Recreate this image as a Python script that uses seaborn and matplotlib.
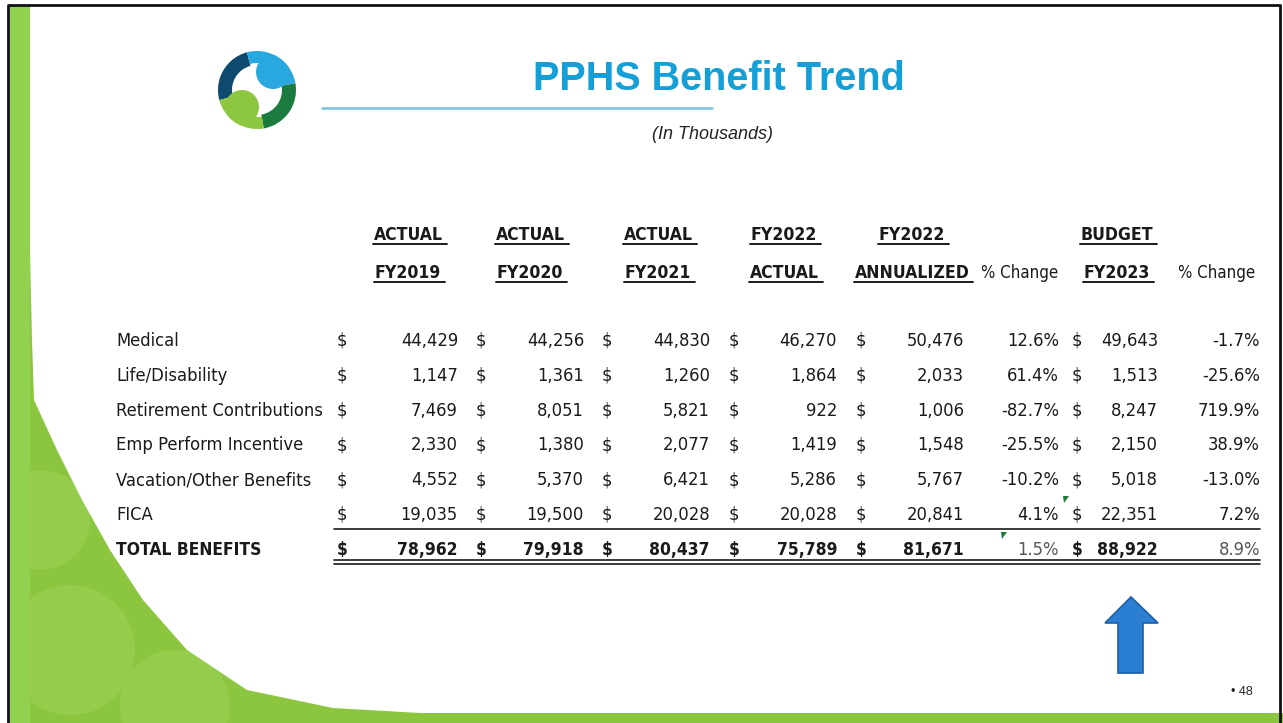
import matplotlib
matplotlib.use("Agg")
import matplotlib.pyplot as plt
import seaborn as sns
from matplotlib.patches import Polygon, Wedge, Circle, Rectangle
from matplotlib import font_manager
from matplotlib.font_manager import FontProperties

# Table data (in thousands)
categories = [
    "Medical",
    "Life/Disability",
    "Retirement Contributions",
    "Emp Perform Incentive",
    "Vacation/Other Benefits",
    "FICA",
]
fy2019 = [44429, 1147, 7469, 2330, 4552, 19035]
fy2020 = [44256, 1361, 8051, 1380, 5370, 19500]
fy2021 = [44830, 1260, 5821, 2077, 6421, 20028]
fy2022_actual = [46270, 1864, 922, 1419, 5286, 20028]
fy2022_annualized = [50476, 2033, 1006, 1548, 5767, 20841]
pct_change_2022 = [12.6, 61.4, -82.7, -25.5, -10.2, 4.1]
budget_fy2023 = [49643, 1513, 8247, 2150, 5018, 22351]
pct_change_2023 = [-1.7, -25.6, 719.9, 38.9, -13.0, 7.2]

total_label = "TOTAL BENEFITS"
total_amounts = [78962, 79918, 80437, 75789, 81671]
total_pct_2022 = 1.5
total_budget = 88922
total_pct_2023 = 8.9

header_top = ["ACTUAL", "ACTUAL", "ACTUAL", "FY2022", "FY2022", "", "BUDGET", ""]
header_bottom = ["FY2019", "FY2020", "FY2021", "ACTUAL", "ANNUALIZED",
                 "% Change", "FY2023", "% Change"]

title = "PPHS Benefit Trend"
subtitle = "(In Thousands)"
page_number = "\u2022 48"

# Theme
sns.set_theme(style="white")
plt.rcParams["font.family"] = ["Liberation Sans", "DejaVu Sans"]


# Pick a narrow face for the table (Calibri look-alike)
def pick_narrow(bold):
    want = 700 if bold else 400
    for f in font_manager.fontManager.ttflist:
        narrow = ("Narrow" in f.name or "Condensed" in f.name
                  or f.stretch in ("condensed", "semi-condensed"))
        if not narrow or f.style != "normal":
            continue
        w = f.weight if isinstance(f.weight, int) else (700 if "bold" in str(f.weight) else 400)
        if w == want:
            return FontProperties(fname=f.fname)
    return FontProperties(family=["Lato", "DejaVu Sans"], weight="bold" if bold else "normal")


fp_reg = pick_narrow(False)
fp_bold = pick_narrow(True)

W, H = 1283, 723
fig = plt.figure(figsize=(W / 100, H / 100), dpi=100)
ax = fig.add_axes([0, 0, 1, 1])
ax.set_xlim(0, W)
ax.set_ylim(H, 0)
ax.axis("off")
sns.despine(ax=ax, left=True, bottom=True)
renderer = fig.canvas.get_renderer()


def fit_size(fp, sample, target_px):
    p = fp.copy()
    p.set_size(10)
    w, _, _ = renderer.get_text_width_height_descent(sample, p, ismath=False)
    return 10 * target_px / w


def prop(fp, size):
    p = fp.copy()
    p.set_size(size)
    return p


body_size = fit_size(fp_reg, "44,429", 57)
head_size = fit_size(fp_bold, "FY2019", 66)
total_size = fit_size(fp_bold, "TOTAL BENEFITS", 145)

body_fp = prop(fp_reg, body_size)
bold_fp = prop(fp_bold, total_size)
head_fp = prop(fp_bold, head_size)
headreg_fp = prop(fp_reg, fit_size(fp_reg, "% Change", 77))

# Slide decoration: green swoosh bottom-left
green_main = "#8cc63f"
green_light = "#a6d867"
swoosh_pts = [(10, 6), (30, 6), (30, 250), (32, 340), (34, 400), (57, 450),
              (82, 500), (110, 550), (143, 600), (187, 650), (247, 690),
              (333, 708), (420, 713), (1283, 713), (1283, 723), (10, 723)]
swoosh = Polygon(swoosh_pts, closed=True, facecolor=green_main,
                 edgecolor="none", zorder=1)
ax.add_patch(swoosh)
for cx, cy, r in [(70, 650, 65), (175, 705, 55), (40, 520, 50)]:
    c = Circle((cx, cy), r, facecolor=green_light, edgecolor="none",
               alpha=0.35, zorder=1.5)
    ax.add_patch(c)
    c.set_clip_path(swoosh)
ax.add_patch(Rectangle((10, 6), 20, 717, facecolor="#92d050",
                       edgecolor="none", zorder=1.6))

# Frame
ax.plot([8, 8, 1280, 1280], [723, 5, 5, 723], color="#111111", lw=2, zorder=5)

# Logo (y axis is inverted, so wedge angles are mirrored)
lx, ly, lr = 257, 90, 39
rim = Circle((lx, ly), lr, facecolor="none", edgecolor="none")
ax.add_patch(rim)
ax.add_patch(Wedge((lx, ly), lr, 165, 255, width=14, facecolor="#0e4a6e",
                   edgecolor="none", zorder=3))
ax.add_patch(Wedge((lx, ly), lr, -10, 80, width=14, facecolor="#1b7a3e",
                   edgecolor="none", zorder=3))
ax.add_patch(Wedge((lx, ly), lr, -105, -10, width=12, facecolor="#29a8e0",
                   edgecolor="none", zorder=3.2))
ax.add_patch(Wedge((lx, ly), lr, 80, 165, width=12, facecolor="#8dc63f",
                   edgecolor="none", zorder=3.2))
for (bx, by), col in [((273, 72), "#29a8e0"), ((242, 107), "#8dc63f")]:
    bulb = Circle((bx, by), 17, facecolor=col, edgecolor="none", zorder=3.3)
    ax.add_patch(bulb)
    bulb.set_clip_path(rim)

# Title, rule and subtitle
ax.text(719, 90, title, ha="center", va="baseline", fontsize=28.5,
        fontweight="bold", color="#14a0d6")
ax.plot([322, 712], [108, 108], color="#79c3dc", lw=1.8, zorder=3)
ax.text(713, 139, subtitle, ha="center", va="baseline", fontsize=13,
        fontstyle="italic", color="#222222")

# Column layout
header_x = [408, 530, 658, 784, 912, 1020, 1117, 1217]
dollar_x = [342, 481, 607, 734, 861]
value_right = [458, 584, 710, 837, 964]
pct1_right = 1059
budget_dollar_x = 1077
budget_right = 1158
pct2_right = 1260
label_x = 116
row_y0, row_step = 346, 34.8
ink = "#1a1a1a"

head_texts = []
for i, (t, b) in enumerate(zip(header_top, header_bottom)):
    if t:
        head_texts.append(ax.text(header_x[i], 240, t, ha="center", va="baseline",
                                  fontproperties=head_fp, color=ink))
    is_pct = b == "% Change"
    txt = ax.text(header_x[i], 278, b, ha="center", va="baseline",
                  fontproperties=headreg_fp if is_pct else head_fp, color=ink)
    if not is_pct:
        head_texts.append(txt)

# Body rows
columns = [fy2019, fy2020, fy2021, fy2022_actual, fy2022_annualized]
for r, cat in enumerate(categories):
    y = row_y0 + r * row_step
    ax.text(label_x, y, cat, ha="left", va="baseline", fontproperties=body_fp, color=ink)
    for c, col in enumerate(columns):
        ax.text(dollar_x[c], y, "$", ha="center", va="baseline", fontproperties=body_fp, color=ink)
        ax.text(value_right[c], y, f"{col[r]:,}", ha="right", va="baseline",
                fontproperties=body_fp, color=ink)
    ax.text(pct1_right, y, f"{pct_change_2022[r]:.1f}%", ha="right", va="baseline",
            fontproperties=body_fp, color=ink)
    ax.text(budget_dollar_x, y, "$", ha="center", va="baseline", fontproperties=body_fp, color=ink)
    ax.text(budget_right, y, f"{budget_fy2023[r]:,}", ha="right", va="baseline",
            fontproperties=body_fp, color=ink)
    ax.text(pct2_right, y, f"{pct_change_2023[r]:.1f}%", ha="right", va="baseline",
            fontproperties=body_fp, color=ink)

# Total row
ty = row_y0 + len(categories) * row_step
ax.text(label_x, ty, total_label, ha="left", va="baseline", fontproperties=bold_fp, color=ink)
for c, v in enumerate(total_amounts):
    ax.text(dollar_x[c], ty, "$", ha="center", va="baseline", fontproperties=bold_fp, color=ink)
    ax.text(value_right[c], ty, f"{v:,}", ha="right", va="baseline",
            fontproperties=bold_fp, color=ink)
ax.text(pct1_right, ty, f"{total_pct_2022:.1f}%", ha="right", va="baseline",
        fontproperties=body_fp, color="#555555")
ax.text(budget_dollar_x, ty, "$", ha="center", va="baseline", fontproperties=bold_fp, color=ink)
ax.text(budget_right, ty, f"{total_budget:,}", ha="right", va="baseline",
        fontproperties=bold_fp, color=ink)
ax.text(pct2_right, ty, f"{total_pct_2023:.1f}%", ha="right", va="baseline",
        fontproperties=body_fp, color="#555555")

# Sum rules
ax.plot([334, 1260], [529, 529], color=ink, lw=1.2, zorder=4)
ax.plot([334, 1260], [560, 560], color=ink, lw=1.2, zorder=4)
ax.plot([334, 1260], [563.5, 563.5], color=ink, lw=1.2, zorder=4)

# Excel indicator marks
ax.add_patch(Polygon([(1063, 496), (1069, 496), (1064, 503)], facecolor="#1a7a35",
                     edgecolor="none", zorder=4))
ax.add_patch(Polygon([(1001, 532), (1007, 532), (1002, 539)], facecolor="#1a7a35",
                     edgecolor="none", zorder=4))

# Header underlines
fig.canvas.draw()
renderer = fig.canvas.get_renderer()
inv = ax.transData.inverted()
for t in head_texts:
    bb = t.get_window_extent(renderer).transformed(inv)
    x0, x1 = min(bb.x0, bb.x1), max(bb.x0, bb.x1)
    yb = t.get_position()[1] + 4
    ax.plot([x0 - 1, x1 + 4], [yb, yb], color=ink, lw=1.4, zorder=4)

# Up arrow
ax.add_patch(Polygon([(1118, 673), (1118, 623), (1105, 623), (1131, 597),
                      (1158, 623), (1143, 623), (1143, 673)], closed=True,
                     facecolor="#2b7fd3", edgecolor="#1c5ea8", lw=1.2, zorder=4))

# Page number
ax.text(1253, 695, page_number, ha="right", va="baseline", fontsize=9,
        color="#222222")

fig.savefig("out.png", dpi=100, facecolor="white")
plt.close(fig)
